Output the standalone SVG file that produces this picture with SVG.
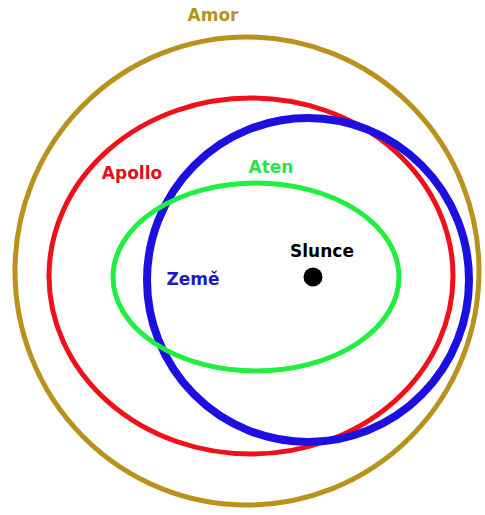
<svg xmlns="http://www.w3.org/2000/svg" width="485" height="515" viewBox="0 0 485 515">
<style>
.orb{fill:none}
.lbl{font-family:"DejaVu Sans","Verdana",sans-serif;font-weight:bold;font-size:17px;text-anchor:middle}
</style>
<rect width="485" height="515" fill="#fff"/>
<g id="amor">
<ellipse class="orb" cx="247" cy="271" rx="232" ry="234" stroke="#b8921c" stroke-width="5"/>
<text class="lbl" x="213" y="21" fill="#b8921c">Amor</text>
</g>
<g id="apollo">
<ellipse class="orb" cx="251" cy="276" rx="202" ry="178" stroke="#f0101a" stroke-width="5"/>
<text class="lbl" x="132" y="179" fill="#e01020">Apollo</text>
</g>
<g id="zeme">
<ellipse class="orb" cx="308" cy="280" rx="161" ry="162" stroke="#1c10e0" stroke-width="8"/>
<text class="lbl" x="193" y="285" fill="#2018c0">Země</text>
</g>
<g id="aten">
<ellipse class="orb" cx="256" cy="277" rx="143" ry="94" stroke="#20ee40" stroke-width="5"/>
<text class="lbl" x="271" y="173" fill="#30e050">Aten</text>
</g>
<g id="slunce">
<circle cx="313" cy="277" r="9.5" fill="#000"/>
<text class="lbl" x="322" y="257" fill="#000">Slunce</text>
</g>
<g id="connectors"/>
</svg>
